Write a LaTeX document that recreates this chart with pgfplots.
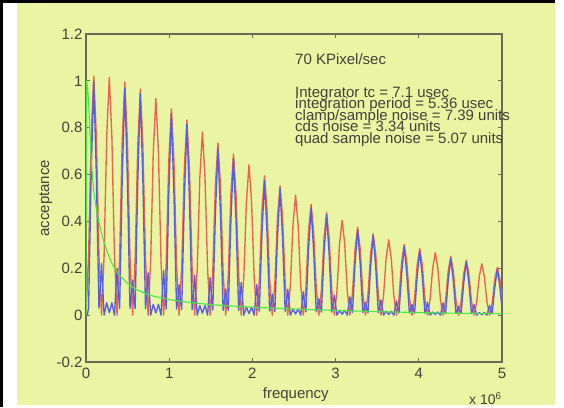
\documentclass[border=0pt]{standalone}
\usepackage{pgfplots}
\pgfplotsset{compat=1.18}
\usepackage{fontspec}
\setmainfont{Liberation Sans}

\definecolor{figbg}{RGB}{233,245,162}
\definecolor{axcol}{RGB}{105,105,90}
\definecolor{txtcol}{RGB}{65,65,60}
\definecolor{mred}{RGB}{242,95,75}
\definecolor{mblue}{RGB}{85,95,230}
\definecolor{mgreen}{RGB}{70,230,70}

\newcommand{\figfont}{\fontsize{15}{15}\selectfont}

\begin{document}
\begin{tikzpicture}
% figure window: white frame, yellow panel, dark edges
\begin{scope}[x=1pt,y=1pt]
\useasboundingbox (0,0) rectangle (564,407);
\fill[white] (0,0) rectangle (564,407);
\fill[figbg] (17,2) rectangle (555,404);
\fill[black] (0,0) rectangle (3,407);
\fill[black] (0,404) rectangle (555,407);
\end{scope}

\begin{axis}[
  at={(86pt,45pt)}, anchor=south west,
  scale only axis, width=416pt, height=328pt,
  xmin=0, xmax=5, ymin=-0.2, ymax=1.2,
  xtick={0,1,2,3,4,5}, xticklabels={0,1,2,3,4,5},
  ytick={-0.2,0,0.2,0.4,0.6,0.8,1,1.2},
  yticklabels={-0.2,0,0.2,0.4,0.6,0.8,1,1.2},
  axis line style={axcol, line width=1.1pt},
  major tick style={axcol, line width=0.9pt},
  major tick length=4pt,
  tick align=inside,
  ticklabel style={font=\figfont, text=txtcol},
  xticklabel style={yshift=-2.5pt},
  clip=true,
]
% clamp/sample response
\addplot[mred, line width=1.35pt, line join=round] coordinates {
(0,0) (0.0311,0.255) (0.0622,0.765) (0.0933,1.02) (0.1244,0.765) (0.1555,0.255)
(0.1866,0) (0.2177,0.254) (0.2488,0.761) (0.2799,1.015) (0.3110,0.761) (0.3421,0.254)
(0.3731,0) (0.4042,0.249) (0.4353,0.746) (0.4664,0.995) (0.4975,0.746) (0.5286,0.249)
(0.5597,0) (0.5908,0.241) (0.6219,0.724) (0.6530,0.965) (0.6841,0.724) (0.7152,0.241)
(0.7463,0) (0.7774,0.231) (0.8085,0.694) (0.8396,0.925) (0.8707,0.694) (0.9018,0.231)
(0.9328,0) (0.9639,0.22) (0.9950,0.66) (1.0261,0.88) (1.0572,0.66) (1.0883,0.22)
(1.1194,0) (1.1505,0.208) (1.1816,0.625) (1.2127,0.833) (1.2438,0.625) (1.2749,0.208)
(1.3060,0) (1.3371,0.196) (1.3682,0.587) (1.3993,0.782) (1.4304,0.587) (1.4615,0.196)
(1.4925,0) (1.5236,0.184) (1.5547,0.551) (1.5858,0.735) (1.6169,0.551) (1.6480,0.184)
(1.6791,0) (1.7102,0.172) (1.7413,0.516) (1.7724,0.688) (1.8035,0.516) (1.8346,0.172)
(1.8657,0) (1.8968,0.161) (1.9279,0.482) (1.9590,0.642) (1.9901,0.482) (2.0212,0.161)
(2.0522,0) (2.0833,0.149) (2.1144,0.446) (2.1455,0.595) (2.1766,0.446) (2.2077,0.149)
(2.2388,0) (2.2699,0.138) (2.3010,0.414) (2.3321,0.552) (2.3632,0.414) (2.3943,0.138)
(2.4254,0) (2.4565,0.128) (2.4876,0.384) (2.5187,0.512) (2.5498,0.384) (2.5809,0.128)
(2.6119,0) (2.6430,0.118) (2.6741,0.355) (2.7052,0.473) (2.7363,0.355) (2.7674,0.118)
(2.7985,0) (2.8296,0.109) (2.8607,0.328) (2.8918,0.437) (2.9229,0.328) (2.9540,0.109)
(2.9851,0) (3.0162,0.101) (3.0473,0.304) (3.0784,0.405) (3.1095,0.304) (3.1406,0.101)
(3.1716,0) (3.2027,0.094) (3.2338,0.281) (3.2649,0.375) (3.2960,0.281) (3.3271,0.094)
(3.3582,0) (3.3893,0.087) (3.4204,0.26) (3.4515,0.347) (3.4826,0.26) (3.5137,0.087)
(3.5448,0) (3.5759,0.081) (3.6070,0.242) (3.6381,0.322) (3.6692,0.242) (3.7003,0.081)
(3.7313,0) (3.7624,0.076) (3.7935,0.227) (3.8246,0.302) (3.8557,0.227) (3.8868,0.076)
(3.9179,0) (3.9490,0.071) (3.9801,0.213) (4.0112,0.284) (4.0423,0.213) (4.0734,0.071)
(4.1045,0) (4.1356,0.067) (4.1667,0.2) (4.1978,0.267) (4.2289,0.2) (4.2600,0.067)
(4.2910,0) (4.3221,0.063) (4.3532,0.188) (4.3843,0.251) (4.4154,0.188) (4.4465,0.063)
(4.4776,0) (4.5087,0.059) (4.5398,0.176) (4.5709,0.235) (4.6020,0.176) (4.6331,0.059)
(4.6642,0) (4.6953,0.055) (4.7264,0.164) (4.7575,0.219) (4.7886,0.164) (4.8197,0.055)
(4.8507,0) (4.8818,0.051) (4.9129,0.153) (4.9440,0.204) (4.9751,0.153) (5.0062,0.051)
(5.0373,0)
};
% quad sample response
\addplot[mblue, line width=1.35pt, line join=round] coordinates {
(0,0) (0.0155,0) (0.0311,0.03) (0.0622,0.6) (0.0933,1.0) (0.1244,0.6) (0.1555,0.03) (0.1710,0.11)
(0.1866,0.22) (0.2021,0.11) (0.2177,0) (0.2488,0.053) (0.2799,0.01) (0.3110,0.053) (0.3421,0) (0.3576,0.10)
(0.3731,0.20) (0.3886,0.10) (0.4042,0.029) (0.4353,0.582) (0.4664,0.97) (0.4975,0.582) (0.5286,0.029) (0.5441,0.075)
(0.5597,0.15) (0.5752,0.075) (0.5908,0.028) (0.6219,0.567) (0.6530,0.945) (0.6841,0.567) (0.7152,0.028) (0.7307,0.09)
(0.7463,0.18) (0.7618,0.09) (0.7774,0) (0.8085,0.046) (0.8396,0.009) (0.8707,0.046) (0.9018,0) (0.9173,0.095)
(0.9328,0.19) (0.9483,0.095) (0.9639,0.026) (0.9950,0.516) (1.0261,0.86) (1.0572,0.516) (1.0883,0.026) (1.1038,0.065)
(1.1194,0.13) (1.1349,0.065) (1.1505,0.024) (1.1816,0.489) (1.2127,0.815) (1.2438,0.489) (1.2749,0.024) (1.2904,0.085)
(1.3060,0.17) (1.3215,0.085) (1.3371,0) (1.3682,0.041) (1.3993,0.008) (1.4304,0.041) (1.4615,0) (1.4770,0.08)
(1.4925,0.16) (1.5080,0.08) (1.5236,0.021) (1.5547,0.426) (1.5858,0.71) (1.6169,0.426) (1.6480,0.021) (1.6635,0.055)
(1.6791,0.11) (1.6946,0.055) (1.7102,0.02) (1.7413,0.402) (1.7724,0.67) (1.8035,0.402) (1.8346,0.02) (1.8501,0.07)
(1.8657,0.14) (1.8812,0.07) (1.8968,0) (1.9279,0.034) (1.9590,0.007) (1.9901,0.034) (2.0212,0) (2.0367,0.065)
(2.0522,0.13) (2.0677,0.065) (2.0833,0.017) (2.1144,0.345) (2.1455,0.575) (2.1766,0.345) (2.2077,0.017) (2.2232,0.045)
(2.2388,0.09) (2.2543,0.045) (2.2699,0.016) (2.3010,0.324) (2.3321,0.54) (2.3632,0.324) (2.3943,0.016) (2.4098,0.055)
(2.4254,0.11) (2.4409,0.055) (2.4565,0) (2.4876,0.026) (2.5187,0.005) (2.5498,0.026) (2.5809,0) (2.5964,0.05)
(2.6119,0.10) (2.6274,0.05) (2.6430,0.014) (2.6741,0.275) (2.7052,0.458) (2.7363,0.275) (2.7674,0.014) (2.7829,0.035)
(2.7985,0.07) (2.8140,0.035) (2.8296,0.013) (2.8607,0.258) (2.8918,0.43) (2.9229,0.258) (2.9540,0.013) (2.9695,0.043)
(2.9851,0.085) (3.0006,0.043) (3.0162,0) (3.0473,0.02) (3.0784,0.004) (3.1095,0.02) (3.1406,0) (3.1561,0.039)
(3.1716,0.078) (3.1871,0.039) (3.2027,0.011) (3.2338,0.219) (3.2649,0.365) (3.2960,0.219) (3.3271,0.011) (3.3426,0.028)
(3.3582,0.055) (3.3737,0.028) (3.3893,0.01) (3.4204,0.204) (3.4515,0.34) (3.4826,0.204) (3.5137,0.01) (3.5292,0.033)
(3.5448,0.065) (3.5603,0.033) (3.5759,0) (3.6070,0.016) (3.6381,0.003) (3.6692,0.016) (3.7003,0) (3.7158,0.03)
(3.7313,0.06) (3.7468,0.03) (3.7624,0.009) (3.7935,0.176) (3.8246,0.293) (3.8557,0.176) (3.8868,0.009) (3.9023,0.023)
(3.9179,0.045) (3.9334,0.023) (3.9490,0.008) (3.9801,0.164) (4.0112,0.274) (4.0423,0.164) (4.0734,0.008) (4.0889,0.028)
(4.1045,0.055) (4.1200,0.028) (4.1356,0) (4.1667,0.013) (4.1978,0.003) (4.2289,0.013) (4.2600,0) (4.2755,0.026)
(4.2910,0.052) (4.3065,0.026) (4.3221,0.007) (4.3532,0.146) (4.3843,0.243) (4.4154,0.146) (4.4465,0.007) (4.4620,0.019)
(4.4776,0.038) (4.4931,0.019) (4.5087,0.007) (4.5398,0.137) (4.5709,0.229) (4.6020,0.137) (4.6331,0.007) (4.6486,0.023)
(4.6642,0.045) (4.6797,0.023) (4.6953,0) (4.7264,0.011) (4.7575,0.002) (4.7886,0.011) (4.8197,0) (4.8352,0.021)
(4.8507,0.042) (4.8662,0.021) (4.8818,0.006) (4.9129,0.118) (4.9440,0.196) (4.9751,0.118) (5.0062,0.006) (5.0217,0.015)
};
% integrator response
\addplot[mgreen, line width=1.1pt, line join=round] coordinates {
(0,0) (0.006,1.0) (0.02,0.97) (0.035,0.88) (0.05,0.76) (0.065,0.65) (0.08,0.58)
(0.1,0.51) (0.13,0.44) (0.16,0.39) (0.2,0.33) (0.25,0.275) (0.3,0.23) (0.35,0.195)
(0.4,0.17) (0.5,0.135) (0.6,0.11) (0.7,0.094) (0.8,0.082) (1.0,0.066) (1.25,0.054)
(1.5,0.045) (1.75,0.039) (2.0,0.034) (2.5,0.026) (3.0,0.02) (3.5,0.015) (4.0,0.011)
(4.5,0.008) (5.0,0.006)
};
\end{axis}

% labels and annotations
\begin{scope}[x=1pt,y=1pt, every node/.style={inner sep=0pt, text=txtcol, font=\figfont}]
\node[anchor=base] at (295.8,8.5) {frequency};
\node[anchor=base, rotate=90] at (49,208.7) {acceptance};
\node[anchor=base west, font=\fontsize{14}{14}\selectfont] at (469,2.5) {x 10\textsuperscript{6}};
\node[anchor=base west] at (295,342) {70 KPixel/sec};
\node[anchor=base west] at (295,309.7) {Integrator tc = 7.1 usec};
\node[anchor=base west] at (295,298.2) {integration period = 5.36 usec};
\node[anchor=base west] at (295,286.7) {clamp/sample noise = 7.39 units};
\node[anchor=base west] at (295,275.2) {cds noise = 3.34 units};
\node[anchor=base west] at (295,263.7) {quad sample noise = 5.07 units};
\end{scope}
\end{tikzpicture}
\end{document}
